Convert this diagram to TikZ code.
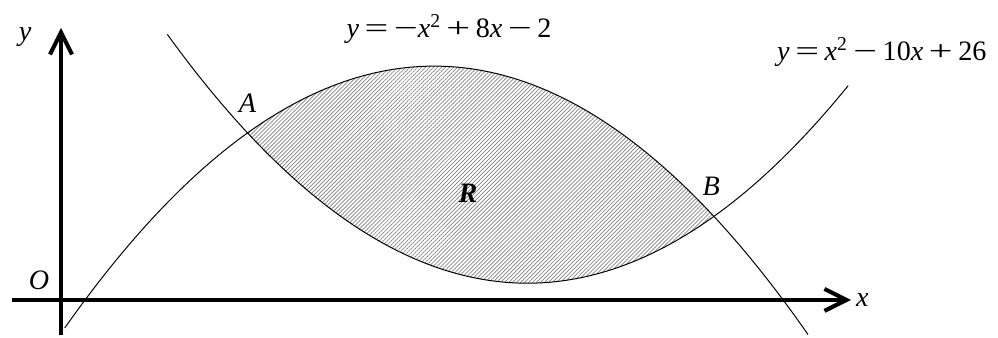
\documentclass[tikz,border=0pt]{standalone}
\usepackage{graphicx}
\usepackage{fontspec}
\setmainfont{Liberation Serif}
\usetikzlibrary{arrows.meta, positioning, patterns.meta}
\newcommand{\wop}[1]{\scalebox{1.5}[1]{#1}}
\newcommand{\bop}[1]{\kern0.2em\wop{#1}\kern0.2em}

\begin{document}
\begin{tikzpicture}[x=2.332cm, y=0.4175cm,
    axis/.style={line width=2.9pt, -{Straight Barb[length=5.5mm, width=5.5mm]}},
    curve/.style={line width=0.7pt, samples=120, smooth},
    lab/.style={font=\fontsize{20}{22}\selectfont\itshape, inner sep=0pt},
    eqn/.style={font=\fontsize{20}{22}\selectfont, inner sep=0pt, anchor=base}]
  \useasboundingbox (-0.654,-2.275) rectangle (10.046,17.96);
  % shaded region between the curves
  \fill[pattern={Lines[angle=45, distance=2pt, line width=0.5pt]}, pattern color=gray]
    plot[domain=2:7, samples=80] (\x, {-\x*\x+8*\x-2})
    -- plot[domain=7:2, samples=80] (\x, {\x*\x-10*\x+26}) -- cycle;
  % axes
  \coordinate (xl) at (-0.525,0);
  \coordinate (xr) at (8.47,0);
  \coordinate (yb) at (0,-2.1);
  \coordinate (yt) at (0,16.29);
  \draw[axis] (xl) -- (xr);
  \draw[axis] (yb) -- (yt);
  % curves
  \draw[curve, domain=0.04:8.01] plot (\x, {-\x*\x+8*\x-2});
  \draw[curve, domain=1.14:8.44] plot (\x, {\x*\x-10*\x+26});
  \coordinate (A) at (2,10);
  \coordinate (B) at (7,5);
  % labels
  \node[lab, above=0.5cm of A] (labA) {A};
  \node[lab, above=0.52cm of B, xshift=-0.07cm] (labB) {B};
  \node[lab] (labO) at (-0.236,1.2) {O};
  \node[lab] (laby) at (-0.386,15.75) {y};
  \node[lab, right=0.12cm of xr] (labx) {x};
  \node[lab, font=\fontsize{20}{22}\selectfont\bfseries\itshape] (labR) at (4.364,6.41) {R};
  \node[eqn] (eqtop) at (4.16,15.69)
    {\textit{y}\bop{=}\wop{−}\textit{x}\textsuperscript{2}\bop{+}8\textit{x}\bop{−}2};
  \node[eqn] (eqright) at (8.80,14.31)
    {\textit{y}\bop{=}\textit{x}\textsuperscript{2}\bop{−}10\textit{x}\bop{+}26};
\end{tikzpicture}
\end{document}
